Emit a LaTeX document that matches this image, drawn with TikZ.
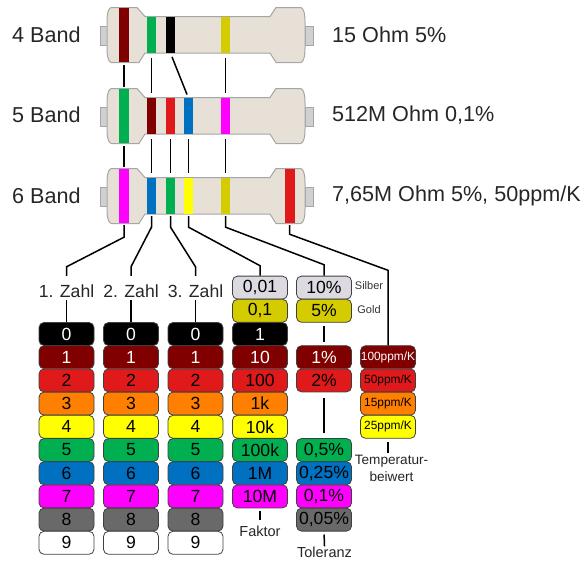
\documentclass[tikz,border=0pt]{standalone}
\usepackage{fontspec}
\setmainfont{Liberation Sans}
\usetikzlibrary{calc}
\definecolor{bodybeige}{RGB}{230,224,214}
\definecolor{bodyline}{RGB}{166,166,166}
\definecolor{leadgrey}{RGB}{208,208,208}
\definecolor{cdarkred}{RGB}{128,0,0}
\definecolor{cred}{RGB}{224,26,26}
\definecolor{corange}{RGB}{255,127,0}
\definecolor{cyellow}{RGB}{255,255,0}
\definecolor{cgreen}{RGB}{0,176,80}
\definecolor{cblue}{RGB}{0,112,192}
\definecolor{cmagenta}{RGB}{255,0,255}
\definecolor{cgrey}{RGB}{105,105,105}
\definecolor{csilver}{RGB}{220,218,224}
\definecolor{cgold}{RGB}{212,204,0}
\newcommand{\px}[1]{\fontsize{#1pt}{#1pt}\selectfont}
\tikzset{
  conn/.style={line width=1.5pt,black},
  pill/.style={draw=black!75,line width=0.8pt,rounded corners=5pt,inner sep=0pt,
    minimum width=55pt,minimum height=23pt,font=\px{17.6}},
  tinypill/.style={pill,font=\px{11.9}},
  wideband/.style={inner sep=0pt,minimum width=10pt,minimum height=54pt},
  neckband/.style={inner sep=0pt,minimum width=8.8pt,minimum height=35.5pt},
  sidelabel/.style={anchor=west,inner sep=0pt,font=\px{21.6},text=black!85},
  zahl/.style={inner sep=0pt,text height=21pt,text depth=3pt,font=\px{17.6},text=black!85},
  caption/.style={inner sep=0pt,font=\px{14.5},text=black!85},
  note/.style={inner sep=0pt,font=\px{11},text=black!80},
  resistor/.pic={
    \fill[leadgrey,draw=bodyline,line width=0.8pt] (100.5,26) rectangle (107,45);
    \fill[leadgrey,draw=bodyline,line width=0.8pt] (305,26) rectangle (313,45);
    \draw[fill=bodybeige,draw=bodyline,line width=1pt]
      (111,7.5) -- (137,7.5) -- (145,16.5) -- (270,16.5) -- (276,7.5) -- (301,7.5)
      .. controls (304,9) and (305,14) .. (305,22) -- (305,48)
      .. controls (305,56) and (304,61) .. (301,62.5) -- (276,62.5) -- (270,53)
      -- (145,53) -- (139,62.5) -- (111,62.5)
      .. controls (108,61) and (107,56) .. (107,48) -- (107,22)
      .. controls (107,14) and (108,9) .. (111,7.5) -- cycle;
  }
}
\begin{document}
\begin{tikzpicture}[x=1pt,y=-1pt]
  \useasboundingbox (0,0) rectangle (585,563);

  % resistor bodies
  \foreach \dy in {0,81,161}
    \pic at (0,\dy) {resistor};

  % bands
  \foreach \nm/\x/\y/\c in {aA/124/35/cdarkred,bA/124/116/cgreen,cA/124/196/cmagenta,cF/289.5/196/cred}
    \node[wideband,fill=\c] (\nm) at (\x,\y) {};
  \foreach \nm/\x/\y/\c in {aB/151.5/35.2/cgreen,aC/170.5/35.2/black,aE/225.5/35.2/cgold,
    bB/151.5/116.2/cdarkred,bC/170.5/116.2/cred,bD/188.5/116.2/cblue,bE/225.5/116.2/cmagenta,
    cB/151.5/196.2/cblue,cC/170.5/196.2/cgreen,cD/188.5/196.2/cyellow,cE/225.5/196.2/cgold}
    \node[neckband,fill=\c] (\nm) at (\x,\y) {};

  % names and examples
  \node[sidelabel] (nameA) at (12,35) {4 Band};
  \node[sidelabel] (nameB) at (12,115) {5 Band};
  \node[sidelabel] (nameC) at (12,196) {6 Band};
  \node[sidelabel] (valA) at (332,35) {15 Ohm 5\%};
  \node[sidelabel] (valB) at (332,115) {512M Ohm 0,1\%};
  \node[sidelabel] (valC) at (332,196) {7,65M Ohm 5\%, 50ppm/K};

  % digit columns
  \foreach \col/\x/\n in {A/66.5/1,B/131/2,C/195.5/3}{
    \node[zahl,anchor=base] (zahl\col) at (\x,297) {\n. Zahl};
    \foreach \row/\c/\tc in {0/black/white,1/cdarkred/white,2/cred/black,3/corange/black,
      4/cyellow/black,5/cgreen/black,6/cblue/black,7/cmagenta/black,8/cgrey/black,9/white/black}
      \node[pill,fill=\c,text=\tc] (\col\row) at (\x,{334+23.2*\row}) {\row};
  }

  % factor column
  \foreach \nm/\row/\c/\t/\tc in {Fs/-2/csilver/{0,01}/black,Fg/-1/cgold/{0,1}/black,F0/0/black/1/white,
    F1/1/cdarkred/10/white,F2/2/cred/100/black,F3/3/corange/1k/black,F4/4/cyellow/10k/black,
    F5/5/cgreen/100k/black,F6/6/cblue/1M/black,F7/7/cmagenta/10M/black}
    \node[pill,fill=\c,text=\tc] (\nm) at (260,{334+23.2*\row}) {\t};

  % tolerance column
  \foreach \nm/\row/\c/\t/\tc in {Ts/-2/csilver/10\%/black,Tg/-1/cgold/5\%/black,T1/1/cdarkred/1\%/white,
    T2/2/cred/2\%/black,T5/5/cgreen/{0,5\%}/black,T6/6/cblue/{0,25\%}/black,
    T7/7/cmagenta/{0,1\%}/black,T8/8/cgrey/{0,05\%}/black}
    \node[pill,fill=\c,text=\tc] (\nm) at (324,{334+23.2*\row}) {\t};

  % temperature column
  \node[tinypill,fill=cdarkred,text=white] (K1) at (388,{334+23.2*1}) {100ppm/K};
  \foreach \row/\c/\t in {2/cred/50,3/corange/15,4/cyellow/25}
    \node[tinypill,fill=\c] (K\row) at (388,{334+23.2*\row}) {\t ppm/K};

  % captions
  \node[note] (silber) at (369,286) {Silber};
  \node[note] (gold) at (369,310) {Gold};
  \node[caption,anchor=base,text height=13pt] (faktor) at (260,536) {Faktor};
  \node[caption,anchor=base,text height=10.5pt] (toleranz) at (324.5,557) {Toleranz};
  \node[caption,font=\px{13.6},anchor=north,align=center,inner ysep=2pt] (tempco) at (391.5,453) {Temperatur-\\[3pt]beiwert};

  % band to band
  \draw[conn,shorten <=3pt,shorten >=2pt] (aA.south) -- (bA.north);
  \draw[conn,shorten <=3pt,shorten >=2pt] (bA.south) -- (cA.north);
  \foreach \from/\to in {aB/bB,aE/bE,bB/cB,bC/cC,bD/cD,bE/cE}
    \draw[conn,shorten <=5pt,shorten >=5pt] (\from.south) -- (\to.north);
  \draw[conn,shorten <=4pt,shorten >=4pt] (aC.south) -- (bD.north);

  % bands to columns
  \draw[conn,shorten <=2pt] (cA.south) -- ++(0,14) -- ($(zahlA.north)+(0,-9)$) -- (zahlA.north);
  \draw[conn,shorten <=2pt] (cB.south) -- ++(0,13) -- ($(zahlB.north)+(0,-9)$) -- (zahlB.north);
  \draw[conn,shorten <=2pt] (cC.south) -- ++(0,13) -- ($(zahlC.north)+(0,-9)$) -- (zahlC.north);
  \draw[conn,shorten <=2pt] (cD.south) -- ++(0,13) -- ($(Fs.north)+(0,-10)$) -- (Fs.north);
  \draw[conn,shorten <=2pt] (cE.south) -- ++(0,13) -- ($(Ts.north)+(0,-11)$) -- (Ts.north);
  \draw[conn,shorten <=2pt] (cF.south) -- ++(0,11) -- ($(K1.north)+(0,-75)$) -- (K1.north);

  % columns to captions
  \foreach \col in {A,B,C}
    \draw[conn] (zahl\col.south) -- (\col0.north);
  \draw[conn,shorten <=3pt,shorten >=3pt] (Tg.south) -- (T1.north);
  \draw[conn,shorten <=6pt,shorten >=5pt] (T2.south) -- (T5.north);
  \draw[conn,shorten <=3pt,shorten >=3pt] (F7.south) -- (faktor.north);
  \draw[conn,shorten <=3pt] (T8.south) -- (toleranz.north);
  \draw[conn,shorten <=3pt] (K4.south) -- (K4.south |- tempco.north);
\end{tikzpicture}
\end{document}
